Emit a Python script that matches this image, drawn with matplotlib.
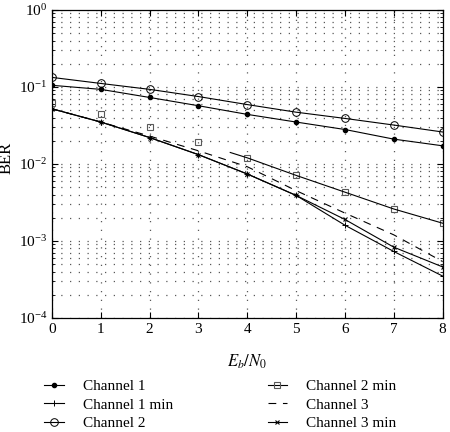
import matplotlib
matplotlib.use('Agg')
import matplotlib.pyplot as plt
import numpy as np

plt.rcParams['font.family'] = 'Liberation Serif'
plt.rcParams['mathtext.fontset'] = 'stix'

ebn0 = [0, 1, 2, 3, 4, 5, 6, 7, 8]
ch1 = [0.105, 0.093, 0.073, 0.057, 0.044, 0.035, 0.028, 0.021, 0.0172]
ch1_min = [0.052, 0.035, 0.022, 0.0132, 0.0074, 0.0039, 0.0016, 0.00073, 0.00035]
ch2 = [0.133, 0.111, 0.093, 0.075, 0.059, 0.047, 0.039, 0.032, 0.026]
ch2_min = [0.062, 0.044, 0.030, 0.019, 0.012, 0.0071, 0.0043, 0.0026, 0.0017]
ch3 = [0.052, 0.035, 0.023, 0.0148, 0.0092, 0.0045, 0.0023, 0.0012, 0.00054]
ch3_min = [0.052, 0.035, 0.022, 0.0132, 0.0074, 0.0039, 0.0019, 0.00083, 0.00046]

fig = plt.figure(figsize=(4.5, 4.32), dpi=100)
ax = fig.add_axes([0.1156, 0.264, 0.868, 0.713])

lw = 0.8
ax.plot(ebn0, ch1, 'k-', marker='o', ms=3, lw=lw, label='Channel 1')
ax.plot(ebn0, ch1_min, 'k-', marker='+', ms=5, mew=0.7, lw=lw, label='Channel 1 min')
ax.plot(ebn0, ch2, 'k-', marker='o', ms=5.5, mfc='none', mew=0.7, lw=lw, label='Channel 2')
# channel 2 min: line only drawn over the last part
ax.plot(ebn0, ch2_min, 'none', marker='s', ms=4.5, mfc='none', mec='0.35', mew=0.8)
l3 = np.log10(ch2_min)
seg_x = [3.65] + ebn0[4:]
seg_y = [10 ** (l3[3] + 0.65 * (l3[4] - l3[3]))] + ch2_min[4:]
ax.plot(seg_x, seg_y, 'k-', lw=lw)
ax.plot([], [], 'k-', marker='s', ms=4.5, mfc='none', mec='0.35', mew=0.8, lw=lw, label='Channel 2 min')
ax.plot(ebn0, ch3, 'k--', lw=lw, dashes=(7, 6), label='Channel 3')
ax.plot(ebn0, ch3_min, 'k-', marker='x', ms=3.5, mew=0.8, lw=lw, label='Channel 3 min')

ax.set_yscale('log')
ax.set_ylim(1e-4, 1)
ax.set_xlim(0, 8)
ax.set_xticks(range(0, 9))
ax.grid(True, which='major', linestyle=(0, (1, 6)), color='0.35', lw=0.9)
ax.grid(True, which='minor', axis='y', linestyle=(0, (1, 6)), color='0.35', lw=0.9)
ax.tick_params(which='both', direction='in', top=True, right=True, labelsize=11)
ax.tick_params(which='major', length=4)
ax.tick_params(which='minor', length=2)
for s in ax.spines.values():
    s.set_linewidth(0.9)

ax.set_xlabel('$E_b/N_0$', fontsize=12, labelpad=12)
ax.set_ylabel('BER', fontsize=12)
ax.yaxis.set_label_coords(-0.095, 0.52)

handles, labels = ax.get_legend_handles_labels()
fig.legend(handles, labels,
           loc='upper left', bbox_to_anchor=(0.085, 0.135), ncol=2,
           frameon=False, fontsize=11, handlelength=1.3,
           columnspacing=6.2, labelspacing=0.3, handletextpad=1.2,
           borderaxespad=0)

fig.savefig('out.png', dpi=100)
plt.close(fig)
